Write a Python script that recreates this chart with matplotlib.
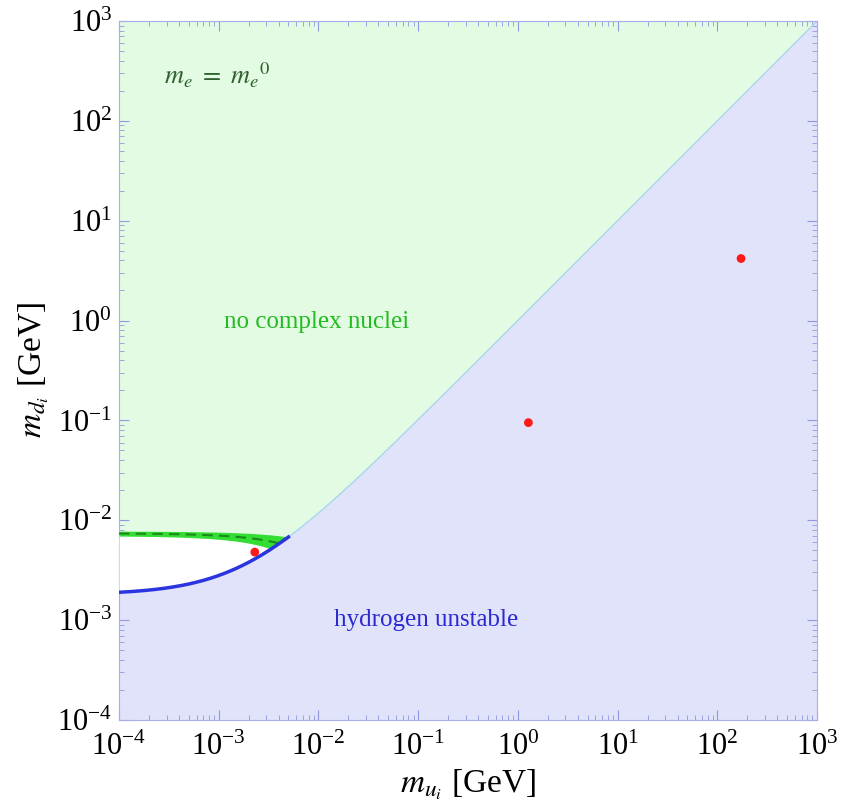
import numpy as np
import matplotlib
matplotlib.use("Agg")
from matplotlib import pyplot as plt

plt.rcParams['font.family'] = ['Liberation Serif', 'DejaVu Serif']
plt.rcParams['mathtext.fontset'] = 'stix'

# quark masses (GeV): u, c, t  /  d, s, b
m_up = [2.3e-3, 1.275, 173.0]
m_down = [4.8e-3, 0.095, 4.18]

# boundary of the "hydrogen unstable" region: m_d = m_u + delta
delta = 1.8e-3
# white window upper edges (band of no nuclei, and its dashed centre)
band_top = [7.8e-3, 0.2]      # intercept, slope in m_u
band_bottom = [7.0e-3, 0.55]
band_mid = [7.4e-3, 0.38]

xlim = (1e-4, 1e3)
ylim = (1e-4, 1e3)

green_bg = '#e2fbe2'
blue_bg = '#e1e3fa'


def main():
    fig = plt.figure(figsize=(8.41, 8.06), dpi=100)
    ax = fig.add_axes([0.1415, 0.1067, 0.83, 0.8673])
    ax.set_xscale('log')
    ax.set_yscale('log')
    ax.set_facecolor(green_bg)

    mu = np.logspace(-4, 3, 1200)
    bound = mu + delta
    ax.fill_between(mu, 1e-5, bound, color=blue_bg, lw=0, zorder=1)
    ax.plot(mu, bound, color='#a8d4f0', lw=1.0, zorder=2)

    # window where complex nuclei exist
    top = band_top[0] - band_top[1] * mu
    bot = band_bottom[0] - band_bottom[1] * mu
    mid = band_mid[0] - band_mid[1] * mu
    ok = top > bound
    ax.fill_between(mu[ok], bound[ok], top[ok], color='#33dd33', lw=0, zorder=2)
    okw = bot > bound
    ax.fill_between(mu[okw], bound[okw], bot[okw], color='white', lw=0, zorder=3)
    okm = mid > bound
    ax.plot(mu[okm], mid[okm], color='#1a8a1a', lw=1.5, ls=(0, (5, 3)), zorder=4)
    ax.plot(mu[ok], bound[ok], color='#2a35e0', lw=2.5, zorder=4)

    ax.scatter(m_up, m_down, s=40, color='#ff1a1a', zorder=5, edgecolors='none')

    ax.text(9.7e-3, 0.97, 'no complex nuclei', color='#22bb22', fontsize=18,
            ha='center', va='center', zorder=6)
    ax.text(0.12, 1.0e-3, 'hydrogen unstable', color='#2a2ad0', fontsize=18,
            ha='center', va='center', zorder=6)
    ax.text(9.6e-4, 288, r'$m_e\ =\ m_e{}^0$', color='#2f5f2f', fontsize=19,
            ha='center', va='center', zorder=6)

    ax.set_xlim(*xlim)
    ax.set_ylim(*ylim)
    ax.set_xticks([10.0 ** k for k in range(-4, 4)])
    ax.set_yticks([10.0 ** k for k in range(-4, 4)])
    ax.tick_params(which='both', direction='in', colors='#9098e0',
                   labelcolor='black', labelsize=22, top=True, right=True)
    ax.tick_params(which='major', length=7)
    ax.tick_params(which='minor', length=3.5)
    ax.tick_params(axis='x', pad=9)
    ax.tick_params(axis='y', pad=5)
    for s in ax.spines.values():
        s.set_color('#a8aee8')
    ax.set_xlabel(r'$m_{u_i}$ [GeV]', fontsize=24, labelpad=4)
    ax.set_ylabel(r'$m_{d_i}$ [GeV]', fontsize=24, labelpad=4)

    fig.savefig('out.png', dpi=100)


if __name__ == '__main__':
    main()
